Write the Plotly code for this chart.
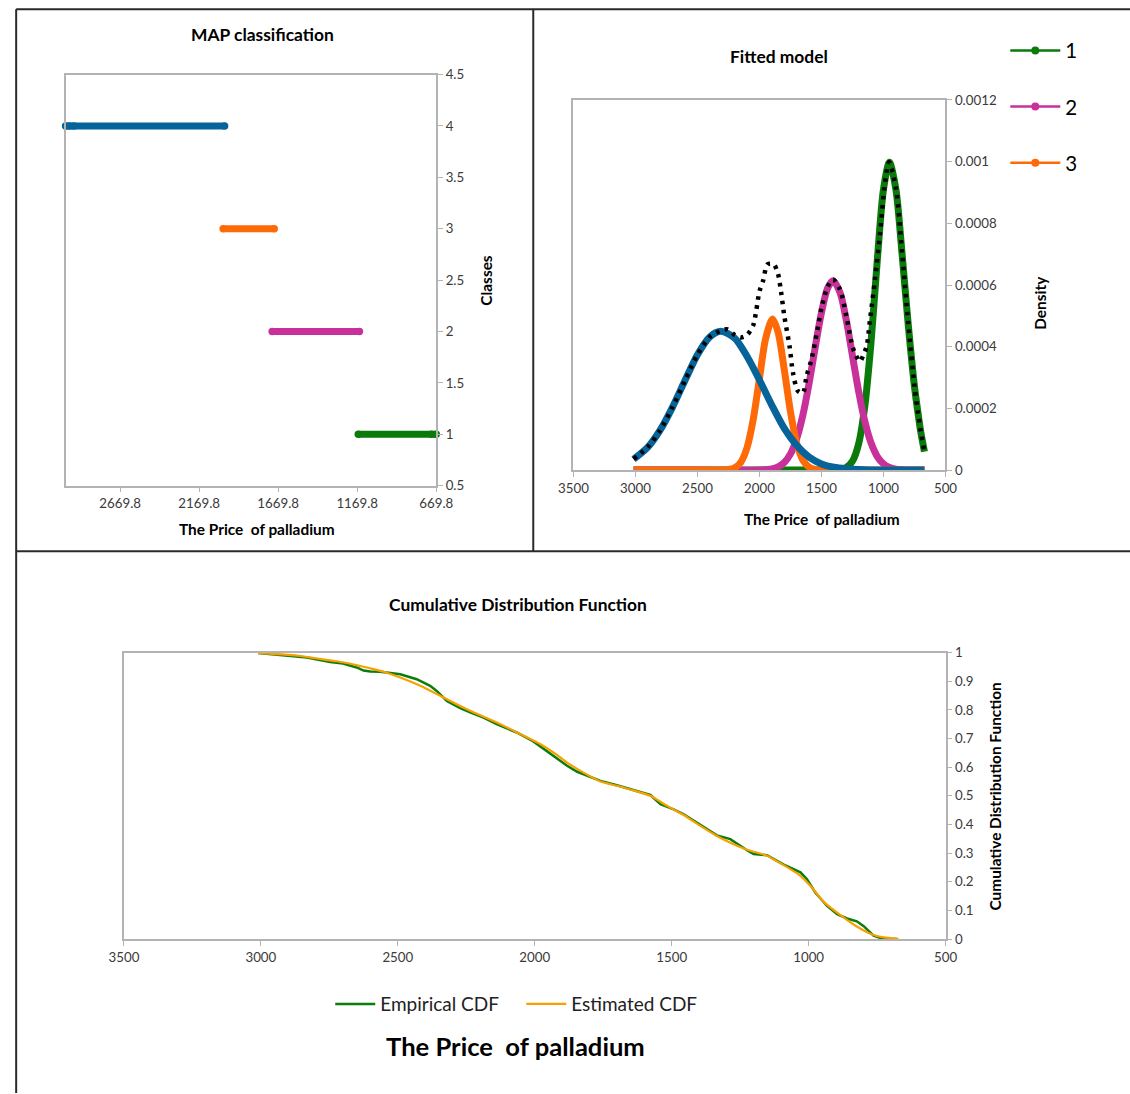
import plotly.graph_objects as go

# Measured mapping from figure pixels to the returned picture:
#   picture_x = 14.8 + 0.972 * fig_x ,  picture_y = 8.4 + 0.986 * fig_y
# so every target position (picture coordinates) is converted back to figure pixels.
SX, SY, OXI, OYI = 0.972, 0.986, 14.8, 8.4
W = round((1130 - OXI) / SX)
H = round((1094 - OYI) / SY)
FONT = "Lato"
FS = 1.025  # font compensation

# ---------------- MAP classification (price ranges assigned to each class) ----------------
cls1_price = [1163, 701, 669.8]
cls1_class = [1, 1, 1]
cls2_price = [1708, 1156]
cls2_class = [2, 2]
cls3_price = [2018, 1695]
cls3_class = [3, 3]
cls4_price = [3015, 2990, 2963, 2009]
cls4_class = [4, 4, 4, 4]
map_ticks = [2669.8, 2169.8, 1669.8, 1169.8, 669.8]

# ---------------- Fitted model (component densities) ----------------
c1_x = [3015, 2500, 2000, 1500, 1400, 1350, 1300, 1250, 1200, 1150, 1100, 1050, 1000, 952,
        900, 850, 800, 750, 720, 700, 670]
c1_y = [0, 0, 0, 0, 0.0000003, 0.0000018, 0.000008, 0.000029, 0.000086, 0.000209, 0.000417,
        0.00068, 0.00091, 0.000998, 0.00091, 0.0007, 0.00047, 0.00027, 0.00018, 0.000125, 0.00006]

c2_x = [3015, 2500, 2000, 1900, 1850, 1800, 1750, 1700, 1650, 1600, 1550, 1500, 1450, 1406,
        1350, 1300, 1250, 1200, 1150, 1100, 1050, 1000, 950, 900, 850, 800, 670]
c2_y = [0, 0, 0, 0.0000038, 0.0000101, 0.0000243, 0.0000523, 0.000102, 0.000178, 0.000281,
        0.000399, 0.000511, 0.00059, 0.000614, 0.000575, 0.000486, 0.00037, 0.000254, 0.000157,
        0.0000875, 0.0000439, 0.0000199, 0.0000081, 0.000003, 0.000001, 0.0000003, 0]

c3_x = [3015, 2500, 2300, 2250, 2200, 2150, 2100, 2050, 2000, 1950, 1895, 1850, 1800, 1750,
        1700, 1650, 1600, 1550, 1500, 1400, 1000, 670]
c3_y = [0, 0, 0, 0.0000016, 0.0000072, 0.0000256, 0.000073, 0.000165, 0.000297, 0.000427,
        0.00049, 0.000447, 0.000325, 0.000189, 0.0000874, 0.0000322, 0.0000095, 0.0000022,
        0.0000004, 0, 0, 0]

c4_x = [3015, 2900, 2800, 2700, 2600, 2500, 2400, 2311, 2200, 2100, 2000, 1900, 1800, 1700,
        1600, 1500, 1400, 1300, 1200, 1100, 1000, 670]
c4_y = [0.000035, 0.000074, 0.00013, 0.000205, 0.000291, 0.000374, 0.000432, 0.00045, 0.000428,
        0.000368, 0.000292, 0.00021, 0.000135, 0.00008, 0.000042, 0.00002, 0.000009, 0.000004,
        0.0000015, 0.0000005, 0.0000002, 0]

mix_x = [3015, 2900, 2800, 2700, 2600, 2500, 2400, 2311, 2257, 2200, 2150, 2100, 2050, 2025,
         2000, 1970, 1935, 1885, 1850, 1825, 1800, 1757, 1730, 1690, 1650, 1620, 1580, 1527,
         1500, 1450, 1406, 1350, 1300, 1250, 1220, 1190, 1165, 1135, 1108, 1068, 1027, 987,
         955, 900, 850, 800, 750, 720, 700, 670]
mix_y = [0.000036, 0.000075, 0.00013, 0.000205, 0.000291, 0.000374, 0.000432, 0.000452,
         0.000456, 0.000438, 0.00043, 0.000438, 0.00047, 0.00052, 0.00058, 0.000615, 0.000667,
         0.000667, 0.000635, 0.000575, 0.0005, 0.0004, 0.000316, 0.000256, 0.00025, 0.000305,
         0.00036, 0.000467, 0.000525, 0.000595, 0.000618, 0.000585, 0.0005, 0.0004, 0.00037,
         0.000352, 0.00037, 0.000403, 0.00049, 0.00062, 0.00077, 0.000933, 0.000998, 0.000915,
         0.000705, 0.000475, 0.000272, 0.000182, 0.000127, 0.000062]

# ---------------- Cumulative distribution ----------------
emp_x = [3010, 2917, 2832, 2747, 2700, 2650, 2625, 2600, 2564, 2491, 2431, 2382, 2358, 2321,
         2272, 2236, 2187, 2139, 2066, 2005, 1932, 1906, 1882, 1845, 1809, 1760, 1700, 1639,
         1578, 1541, 1493, 1456, 1395, 1335, 1286, 1250, 1225, 1201, 1152, 1091, 1030, 1006,
         976, 955, 933, 896, 860, 824, 799, 763, 732, 700, 678]
emp_y = [0.998, 0.991, 0.983, 0.967, 0.962, 0.948, 0.937, 0.934, 0.933, 0.924, 0.907, 0.884,
         0.866, 0.831, 0.806, 0.791, 0.773, 0.75, 0.721, 0.69, 0.64, 0.622, 0.605, 0.584, 0.57,
         0.552, 0.537, 0.52, 0.503, 0.471, 0.453, 0.435, 0.397, 0.362, 0.349, 0.325, 0.31, 0.297,
         0.293, 0.26, 0.233, 0.209, 0.163, 0.14, 0.116, 0.087, 0.072, 0.062, 0.045, 0.012, 0.002,
         0, 0]

est_x = [3010, 2900, 2856, 2800, 2735, 2700, 2637, 2600, 2552, 2491, 2418, 2333, 2248, 2125,
         2052, 1979, 1918, 1882, 1833, 1760, 1700, 1639, 1578, 1517, 1456, 1395, 1335, 1274,
         1225, 1152, 1091, 1030, 994, 945, 884, 824, 763, 726, 672]
est_y = [0.998, 0.992, 0.988, 0.98, 0.971, 0.966, 0.953, 0.945, 0.933, 0.913, 0.884, 0.843,
         0.802, 0.75, 0.715, 0.68, 0.642, 0.616, 0.587, 0.55, 0.535, 0.519, 0.5, 0.465, 0.433,
         0.395, 0.36, 0.331, 0.312, 0.291, 0.258, 0.221, 0.186, 0.13, 0.084, 0.044, 0.014,
         0.006, 0.001]

GREEN = "#0a7a0a"
PINK = "#c8309a"
ORANGE = "#ff6a08"
BLUE = "#06649a"
AXIS_GRAY = "#b3b3b3"
TICK_COL = "#3a3a3a"


def px(x):
    return ((x - OXI) / SX) / W


def py(y):
    return 1 - ((y - OYI) / SY) / H


def f(s):
    return round(s * FS, 1)


fig = go.Figure()

# MAP panel
for xs, ys, col in [(cls4_price, cls4_class, BLUE), (cls3_price, cls3_class, ORANGE),
                    (cls2_price, cls2_class, PINK), (cls1_price, cls1_class, GREEN)]:
    fig.add_trace(go.Scatter(x=xs, y=ys, mode="lines+markers", xaxis="x", yaxis="y",
                             line=dict(color=col, width=7), marker=dict(color=col, size=7.5),
                             cliponaxis=False, showlegend=False))

# Fitted model panel
for xs, ys, col in [(c1_x, c1_y, GREEN), (c2_x, c2_y, PINK), (c3_x, c3_y, ORANGE), (c4_x, c4_y, BLUE)]:
    fig.add_trace(go.Scatter(x=xs, y=ys, mode="lines", xaxis="x2", yaxis="y2",
                             line=dict(color=col, width=7, shape="spline", smoothing=0.8),
                             cliponaxis=False, showlegend=False))
fig.add_trace(go.Scatter(x=mix_x, y=mix_y, mode="lines", xaxis="x2", yaxis="y2",
                         line=dict(color="black", width=4.5, dash="3.5px,5.5px", shape="spline",
                                   smoothing=0.8),
                         cliponaxis=False, showlegend=False))
for name, col in [("1", GREEN), ("2", PINK), ("3", ORANGE)]:
    fig.add_trace(go.Scatter(x=[None], y=[None], mode="lines+markers", name=name, xaxis="x2", yaxis="y2",
                             line=dict(color=col, width=2.5), marker=dict(color=col, size=8),
                             legend="legend", legendgroup=name, showlegend=True))

# CDF panel
fig.add_trace(go.Scatter(x=emp_x, y=emp_y, mode="lines", name="Empirical CDF", xaxis="x3", yaxis="y3",
                         line=dict(color="#0b7d0b", width=2.5), legend="legend2"))
fig.add_trace(go.Scatter(x=est_x, y=est_y, mode="lines", name="Estimated CDF", xaxis="x3", yaxis="y3",
                         line=dict(color="#f7a000", width=2.2, shape="spline", smoothing=0.6),
                         legend="legend2"))

ax_common = dict(showline=True, linecolor=AXIS_GRAY, linewidth=1.5, mirror=True, showgrid=False,
                 zeroline=False, ticks="outside", ticklen=5, tickcolor=AXIS_GRAY, tickwidth=1.2,
                 tickfont=dict(family=FONT, size=f(13), color=TICK_COL))

fig.update_layout(
    width=W, height=H, margin=dict(l=0, r=0, t=0, b=0),
    paper_bgcolor="white", plot_bgcolor="white",
    font=dict(family=FONT, color="black"),
    xaxis=dict(domain=[px(65.4), px(436)], range=[3015, 669.8], tickvals=map_ticks,
               ticktext=[f"{v:.1f}" for v in map_ticks], anchor="y", **ax_common),
    yaxis=dict(domain=[py(486.4), py(75)], range=[0.5, 4.5], dtick=0.5, side="right",
               anchor="x", **ax_common),
    xaxis2=dict(domain=[px(573.2), px(945.2)], range=[3500, 500], dtick=500, anchor="y2", **ax_common),
    yaxis2=dict(domain=[py(470.7), py(100.4)], range=[0, 0.0012], side="right", anchor="x2",
                tickvals=[0, 0.0002, 0.0004, 0.0006, 0.0008, 0.001, 0.0012],
                ticktext=["0", "0.0002", "0.0004", "0.0006", "0.0008", "0.001", "0.0012"], **ax_common),
    xaxis3=dict(domain=[px(123.7), px(945.3)], range=[3500, 500], dtick=500, anchor="y3", **ax_common),
    yaxis3=dict(domain=[py(940), py(653.3)], range=[0, 1], dtick=0.1, side="right", anchor="x3",
                **ax_common),
    legend=dict(x=px(1005), y=py(31), xanchor="left", yanchor="top", bgcolor="rgba(0,0,0,0)",
                font=dict(family=FONT, size=f(20), color="black"), tracegroupgap=26.5, itemwidth=50,
                traceorder="grouped"),
    legend2=dict(x=px(330), y=py(1005), xanchor="left", yanchor="middle", orientation="h",
                 bgcolor="rgba(0,0,0,0)", font=dict(family=FONT, size=f(18.5), color="#222"),
                 entrywidth=136, entrywidthmode="pixels", itemwidth=40),
)

ann = [
    ("MAP classification", 262, 35, 17, 0),
    ("The Price\u00a0 of palladium", 257, 530, 15, 0),
    ("Classes", 486, 281, 15, -90),
    ("Fitted model", 779, 57, 17, 0),
    ("The Price\u00a0 of palladium", 822, 520, 15, 0),
    ("Density", 1040, 303, 15, -90),
    ("Cumulative Distribution Function", 518, 605, 17, 0),
    ("Cumulative Distribution Function", 995, 797, 15, -90),
    ("The Price\u00a0 of palladium", 515, 1047, 25, 0),
]
for text, x, y, size, ang in ann:
    fig.add_annotation(text=f"<b>{text}</b>", x=px(x), y=py(y), xref="paper", yref="paper",
                       showarrow=False, textangle=ang, xanchor="center", yanchor="middle",
                       font=dict(family=FONT, size=f(size), color="black"))

# panel frame lines (left / top edges as close to the picture edge as the figure allows)
x_left = max(px(10.5), 1.2 / W)
y_top = min(py(6), 1 - 1.2 / H)
for x0, y0, x1, y1 in [(x_left, y_top, 1.0, y_top), (x_left, y_top, x_left, 0.0),
                       (px(533), y_top, px(533), py(552)), (x_left, py(552), 1.0, py(552))]:
    fig.add_shape(type="line", xref="paper", yref="paper", x0=x0, y0=y0, x1=x1, y1=y1,
                  line=dict(color="#2a2a2a", width=2))

fig.write_html("out.html")
